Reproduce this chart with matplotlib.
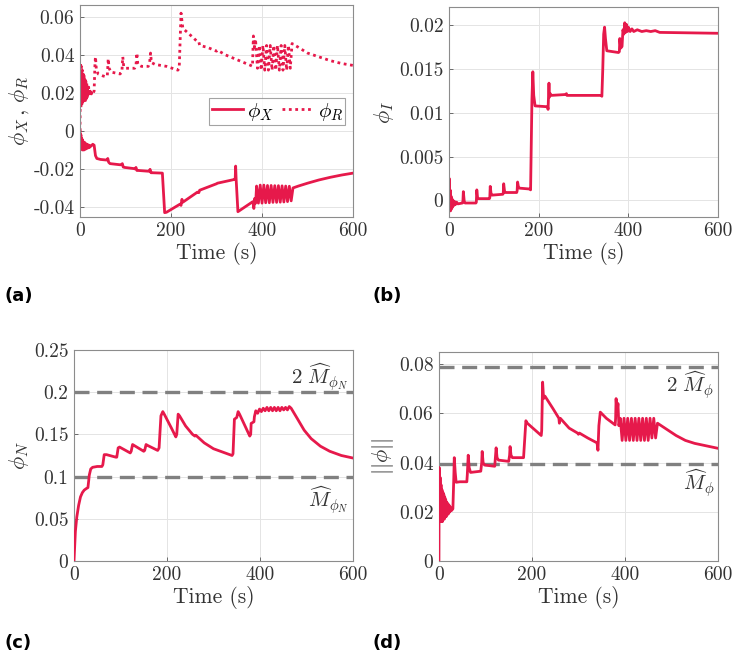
import numpy as np
import matplotlib
matplotlib.use('Agg')
import matplotlib.pyplot as plt

# ---------------- data ----------------
# phi_X (solid) and phi_R (dotted), panel (a)
t_x = [0, 1, 2, 3, 4, 5, 6, 7, 8, 9, 10, 11, 12, 13, 14, 15, 16, 17, 18, 19, 20, 22, 24, 26, 28, 31,
       34, 37, 45, 58, 60, 61, 63, 66, 88, 91, 93, 95, 98, 118, 121, 123, 125, 128, 150, 152, 154, 156,
       159, 181, 186, 190, 220, 222, 224, 226, 258, 261, 263, 300, 302, 340, 341, 342, 343, 347, 378,
       380, 382, 384, 386, 388, 392, 396, 400, 404, 408, 412, 416, 420, 424, 428, 432, 436, 440, 444,
       448, 452, 456, 460, 464, 468, 480, 500, 525, 550, 575, 600]
phi_x = [0, -0.004, -0.002, -0.008, -0.004, -0.010, -0.005, -0.010, -0.006, -0.010, -0.006, -0.0095,
         -0.0065, -0.0095, -0.007, -0.009, -0.007, -0.009, -0.0075, -0.0088, -0.0075, -0.0085, -0.0078,
         -0.0076, -0.007, -0.0075, -0.013, -0.0145, -0.015, -0.0153, -0.0153, -0.0145, -0.0165, -0.0172,
         -0.0178, -0.0178, -0.0172, -0.019, -0.0192, -0.0198, -0.0200, -0.0192, -0.0208, -0.0208,
         -0.0212, -0.0212, -0.0202, -0.0220, -0.0220, -0.0222, -0.0430, -0.0428, -0.0385, -0.0392,
         -0.0360, -0.0375, -0.0322, -0.0325, -0.0312, -0.0278, -0.0275, -0.0255, -0.0255, -0.0185,
         -0.0250, -0.0425, -0.0375, -0.0372, -0.0408, -0.0355, -0.0380, -0.0290, -0.0380, -0.0285,
         -0.0380, -0.0285, -0.0378, -0.0287, -0.0378, -0.0287, -0.0376, -0.0288, -0.0376, -0.0288,
         -0.0375, -0.0289, -0.0374, -0.0290, -0.0372, -0.0291, -0.0368, -0.0300, -0.0290, -0.0275,
         -0.0258, -0.0244, -0.0232, -0.0222]

t_r = [0, 1, 2, 3, 4, 5, 6, 7, 8, 9, 10, 11, 12, 13, 14, 15, 16, 17, 18, 19, 20, 21, 22, 23, 25, 27,
       29, 31, 33, 34, 36, 40, 50, 57, 60, 62, 64, 68, 88, 92, 94, 96, 100, 120, 123, 125, 127, 135,
       150, 153, 155, 157, 165, 190, 215, 218, 222, 226, 240, 258, 261, 263, 280, 300, 302, 320, 350,
       375, 379, 381, 383, 386, 390, 394, 398, 402, 406, 410, 414, 418, 422, 426, 430, 434, 438, 442,
       446, 450, 454, 458, 462, 466, 480, 500, 525, 550, 575, 600]
phi_r = [0, 0.036, 0.012, 0.034, 0.013, 0.032, 0.014, 0.030, 0.015, 0.029, 0.016, 0.027, 0.016, 0.026,
         0.017, 0.025, 0.017, 0.024, 0.018, 0.023, 0.018, 0.022, 0.019, 0.0215, 0.0195, 0.021, 0.020,
         0.021, 0.036, 0.039, 0.032, 0.030, 0.029, 0.0285, 0.029, 0.038, 0.033, 0.031, 0.030, 0.031,
         0.039, 0.034, 0.033, 0.033, 0.0345, 0.041, 0.035, 0.034, 0.034, 0.036, 0.041, 0.036, 0.035,
         0.034, 0.032, 0.033, 0.062, 0.054, 0.051, 0.047, 0.047, 0.045, 0.044, 0.042, 0.0425, 0.040,
         0.037, 0.0345, 0.034, 0.050, 0.044, 0.047, 0.033, 0.045, 0.032, 0.045, 0.032, 0.045, 0.032,
         0.045, 0.032, 0.045, 0.032, 0.045, 0.032, 0.045, 0.032, 0.045, 0.032, 0.045, 0.033, 0.046,
         0.044, 0.041, 0.039, 0.037, 0.0355, 0.0345]

# phi_I, panel (b)
t_i = [0, 0.5, 1.5, 2.5, 3.5, 4.5, 5.5, 6.5, 7.5, 9, 10.5, 12, 14, 17, 20, 30, 31, 32, 34, 36, 60, 61,
       62, 64, 66, 90, 91, 92, 94, 96, 120, 121, 122, 124, 126, 151, 152, 153, 155, 157, 180, 182, 185,
       187, 189, 192, 220, 221, 223, 224, 226, 228, 260, 262, 263, 340, 341, 343, 345, 347, 349, 352,
       378, 380, 381, 383, 386, 388, 390, 392, 394, 396, 398, 400, 404, 408, 412, 420, 430, 440, 450,
       460, 465, 470, 600]
phi_i = [0, 0.0025, -0.0008, 0.0012, -0.0012, 0.0005, -0.0010, 0.0002, -0.0008, 0.0000, -0.0006,
         -0.0001, -0.0005, -0.0002, -0.0004, -0.0003, -0.0002, 0.0010, -0.0001, -0.0003, -0.0003,
         -0.0002, 0.0012, 0.0002, 0.0002, 0.0002, 0.0003, 0.0016, 0.0007, 0.0006, 0.0007, 0.0008,
         0.0019, 0.0010, 0.0009, 0.0009, 0.0011, 0.0021, 0.0015, 0.0014, 0.0013, 0.0012, 0.0115,
         0.0147, 0.0120, 0.0108, 0.0107, 0.0104, 0.0134, 0.0118, 0.0122, 0.0120, 0.0121, 0.0122,
         0.0120, 0.0120, 0.0119, 0.0150, 0.0190, 0.0198, 0.0185, 0.0171, 0.0169, 0.0170, 0.0185,
         0.0174, 0.0176, 0.0195, 0.0190, 0.0203, 0.0192, 0.0201, 0.0193, 0.0198, 0.0193, 0.0196,
         0.0193, 0.0195, 0.0193, 0.0194, 0.0193, 0.0194, 0.0193, 0.0192, 0.0191]

# phi_N, panel (c)
t_n = [0, 3, 6, 10, 14, 18, 22, 27, 30, 33, 36, 40, 50, 60, 62, 65, 70, 90, 92, 95, 98, 121, 123, 126,
       129, 150, 152, 155, 158, 180, 183, 187, 191, 195, 210, 219, 221, 224, 227, 240, 255, 260, 262,
       266, 280, 300, 320, 340, 342, 345, 350, 353, 356, 378, 380, 381, 384, 387, 388, 391, 395, 399,
       403, 407, 411, 415, 419, 423, 427, 431, 435, 439, 443, 447, 451, 455, 459, 463, 467, 480, 495,
       510, 530, 550, 575, 600]
phi_n = [0, 0.035, 0.052, 0.066, 0.076, 0.081, 0.084, 0.086, 0.087, 0.102, 0.109, 0.111, 0.112, 0.112,
         0.114, 0.126, 0.126, 0.123, 0.123, 0.134, 0.135, 0.128, 0.130, 0.138, 0.137, 0.130, 0.131,
         0.138, 0.137, 0.131, 0.134, 0.172, 0.177, 0.173, 0.157, 0.147, 0.150, 0.174, 0.172, 0.160,
         0.150, 0.148, 0.149, 0.147, 0.140, 0.133, 0.129, 0.125, 0.127, 0.168, 0.170, 0.177, 0.174,
         0.148, 0.150, 0.163, 0.164, 0.165, 0.171, 0.178, 0.175, 0.180, 0.177, 0.181, 0.178, 0.182,
         0.178, 0.182, 0.178, 0.182, 0.178, 0.182, 0.178, 0.182, 0.179, 0.182, 0.179, 0.183, 0.181,
         0.169, 0.155, 0.145, 0.136, 0.130, 0.125, 0.122]

# ||phi||, panel (d)
t_norm = [0, 0.5, 1.5, 2.5, 3.5, 4.5, 5.5, 6.5, 7.5, 8.5, 9.5, 10.5, 11.5, 12.5, 13.5, 14.5, 15.5,
          16.5, 17.5, 18.5, 19.5, 20.5, 21.5, 22.5, 23.5, 25, 27, 30, 32, 33, 35, 37, 45, 60, 61, 63,
          65, 68, 90, 92, 93, 95, 98, 120, 121, 123, 125, 128, 150, 152, 153, 155, 158, 182, 184, 187,
          190, 220, 221, 223, 225, 228, 245, 258, 259, 261, 280, 298, 300, 302, 320, 340, 342, 344,
          347, 360, 379, 380, 381, 383, 385, 387, 390, 394, 398, 402, 406, 410, 414, 418, 422, 426,
          430, 434, 438, 442, 446, 450, 454, 458, 462, 466, 470, 490, 510, 530, 550, 575, 600]
phi_norm = [0, 0.038, 0.016, 0.034, 0.016, 0.031, 0.016, 0.029, 0.016, 0.028, 0.017, 0.027, 0.017,
            0.026, 0.018, 0.025, 0.018, 0.024, 0.019, 0.0235, 0.019, 0.023, 0.0195, 0.0225, 0.020,
            0.0218, 0.0205, 0.0212, 0.034, 0.042, 0.036, 0.032, 0.0322, 0.0322, 0.035, 0.043, 0.038,
            0.036, 0.0365, 0.040, 0.0445, 0.040, 0.039, 0.0385, 0.041, 0.046, 0.042, 0.041, 0.0405,
            0.043, 0.0465, 0.043, 0.042, 0.042, 0.048, 0.057, 0.056, 0.051, 0.053, 0.0727, 0.066,
            0.067, 0.062, 0.058, 0.056, 0.058, 0.054, 0.052, 0.0515, 0.052, 0.050, 0.048, 0.045, 0.055,
            0.0605, 0.058, 0.0553, 0.058, 0.066, 0.060, 0.064, 0.055, 0.058, 0.049, 0.058, 0.049, 0.058,
            0.049, 0.058, 0.049, 0.058, 0.049, 0.058, 0.049, 0.058, 0.049, 0.058, 0.049, 0.058, 0.050,
            0.058, 0.050, 0.056, 0.0535, 0.051, 0.049, 0.0478, 0.0468, 0.0458]

# bounds
m_phi_n = 0.1
m_phi = 0.0395

x_ticks = [0, 200, 400, 600]
y_ticks_a = [-0.04, -0.02, 0, 0.02, 0.04, 0.06]
y_ticklabels_a = ['-0.04', '-0.02', '0', '0.02', '0.04', '0.06']
y_ticks_b = [0, 0.005, 0.01, 0.015, 0.02]
y_ticklabels_b = ['0', '0.005', '0.01', '0.015', '0.02']
y_ticks_c = [0, 0.05, 0.1, 0.15, 0.2, 0.25]
y_ticklabels_c = ['0', '0.05', '0.1', '0.15', '0.2', '0.25']
y_ticks_d = [0, 0.02, 0.04, 0.06, 0.08]
y_ticklabels_d = ['0', '0.02', '0.04', '0.06', '0.08']

# ---------------- style ----------------
line_color = '#E6194B'
bound_color = '#808080'
text_color = '#333333'
tick_font = 'cmr10'
plt.rcParams['mathtext.fontset'] = 'cm'
plt.rcParams['axes.unicode_minus'] = False


def setup_axes(ax, ylim, yticks, yticklabels, ylabel):
    ax.set_xlim(0, 600)
    ax.set_ylim(*ylim)
    ax.set_xticks(x_ticks)
    ax.set_xticklabels([str(v) for v in x_ticks], fontfamily=tick_font, fontsize=14, color=text_color)
    ax.set_yticks(yticks)
    ax.set_yticklabels(yticklabels, fontfamily=tick_font, fontsize=14, color=text_color)
    ax.tick_params(direction='in', length=3, width=0.6, color='#555555', pad=4)
    ax.grid(True, color='#e4e4e4', linewidth=0.7)
    ax.set_axisbelow(True)
    for s in ax.spines.values():
        s.set_color('#8c8c8c')
        s.set_linewidth(0.8)
    ax.set_xlabel('Time (s)', fontfamily=tick_font, fontsize=15.5, color=text_color, labelpad=1)
    ax.set_ylabel(ylabel, fontsize=16, color=text_color, labelpad=2)


def draw_bound(ax, y):
    ax.axhline(y, color=bound_color, linewidth=2.4, dashes=(4.5, 2.3), zorder=1)


fig = plt.figure(figsize=(7.34, 6.57), dpi=100)

ax_a = fig.add_axes([0.109, 0.6697, 0.372, 0.3227])
ax_b = fig.add_axes([0.6117, 0.6697, 0.3665, 0.3196])
ax_c = fig.add_axes([0.1008, 0.1461, 0.3801, 0.3212])
ax_d = fig.add_axes([0.598, 0.1461, 0.3801, 0.318])

# (a)
ax_a.plot(t_x, phi_x, color=line_color, linewidth=2.0, label=r'$\phi_X$')
ax_a.plot(t_r, phi_r, color=line_color, linewidth=2.0, linestyle=(0, (1, 1.3)),
          dash_capstyle='butt', label=r'$\phi_R$')
setup_axes(ax_a, (-0.0453, 0.0663), y_ticks_a, y_ticklabels_a, r'$\phi_X\,\mathrm{,}\ \phi_R$')
leg = ax_a.legend(loc='upper right', bbox_to_anchor=(0.972, 0.56), ncol=2, fontsize=15,
                  frameon=True, fancybox=False, handlelength=1.5, handletextpad=0.2,
                  columnspacing=0.4, borderpad=0.12, borderaxespad=0)
leg.get_frame().set_edgecolor('#8c8c8c')
leg.get_frame().set_linewidth(0.8)

# (b)
ax_b.plot(t_i, phi_i, color=line_color, linewidth=2.0)
setup_axes(ax_b, (-0.0019, 0.0221), y_ticks_b, y_ticklabels_b, r'$\phi_I$')

# (c)
draw_bound(ax_c, 2 * m_phi_n)
draw_bound(ax_c, m_phi_n)
ax_c.plot(t_n, phi_n, color=line_color, linewidth=2.0, zorder=3)
setup_axes(ax_c, (0, 0.25), y_ticks_c, y_ticklabels_c, r'$\phi_N$')
ax_c.text(590, 0.217, r'$2\ \widehat{M}_{\phi_N}$', ha='right', va='center', fontsize=15, color=text_color)
ax_c.text(590, 0.072, r'$\widehat{M}_{\phi_N}$', ha='right', va='center', fontsize=15, color=text_color)

# (d)
draw_bound(ax_d, 2 * m_phi)
draw_bound(ax_d, m_phi)
ax_d.plot(t_norm, phi_norm, color=line_color, linewidth=2.0, zorder=3)
setup_axes(ax_d, (0, 0.0849), y_ticks_d, y_ticklabels_d, r'$||\phi||$')
ax_d.text(592, 0.0715, r'$2\ \widehat{M}_{\phi}$', ha='right', va='center', fontsize=15, color=text_color)
ax_d.text(592, 0.0317, r'$\widehat{M}_{\phi}$', ha='right', va='center', fontsize=15, color=text_color)

# panel letters
for lbl, x, y in [('(a)', 5, 296), ('(b)', 372, 296), ('(c)', 5, 643), ('(d)', 372, 643)]:
    fig.text(x / 734, 1 - y / 657, lbl, fontsize=13, fontweight='bold', ha='left', va='center',
             family='DejaVu Sans')

fig.savefig('out.png', dpi=100)
